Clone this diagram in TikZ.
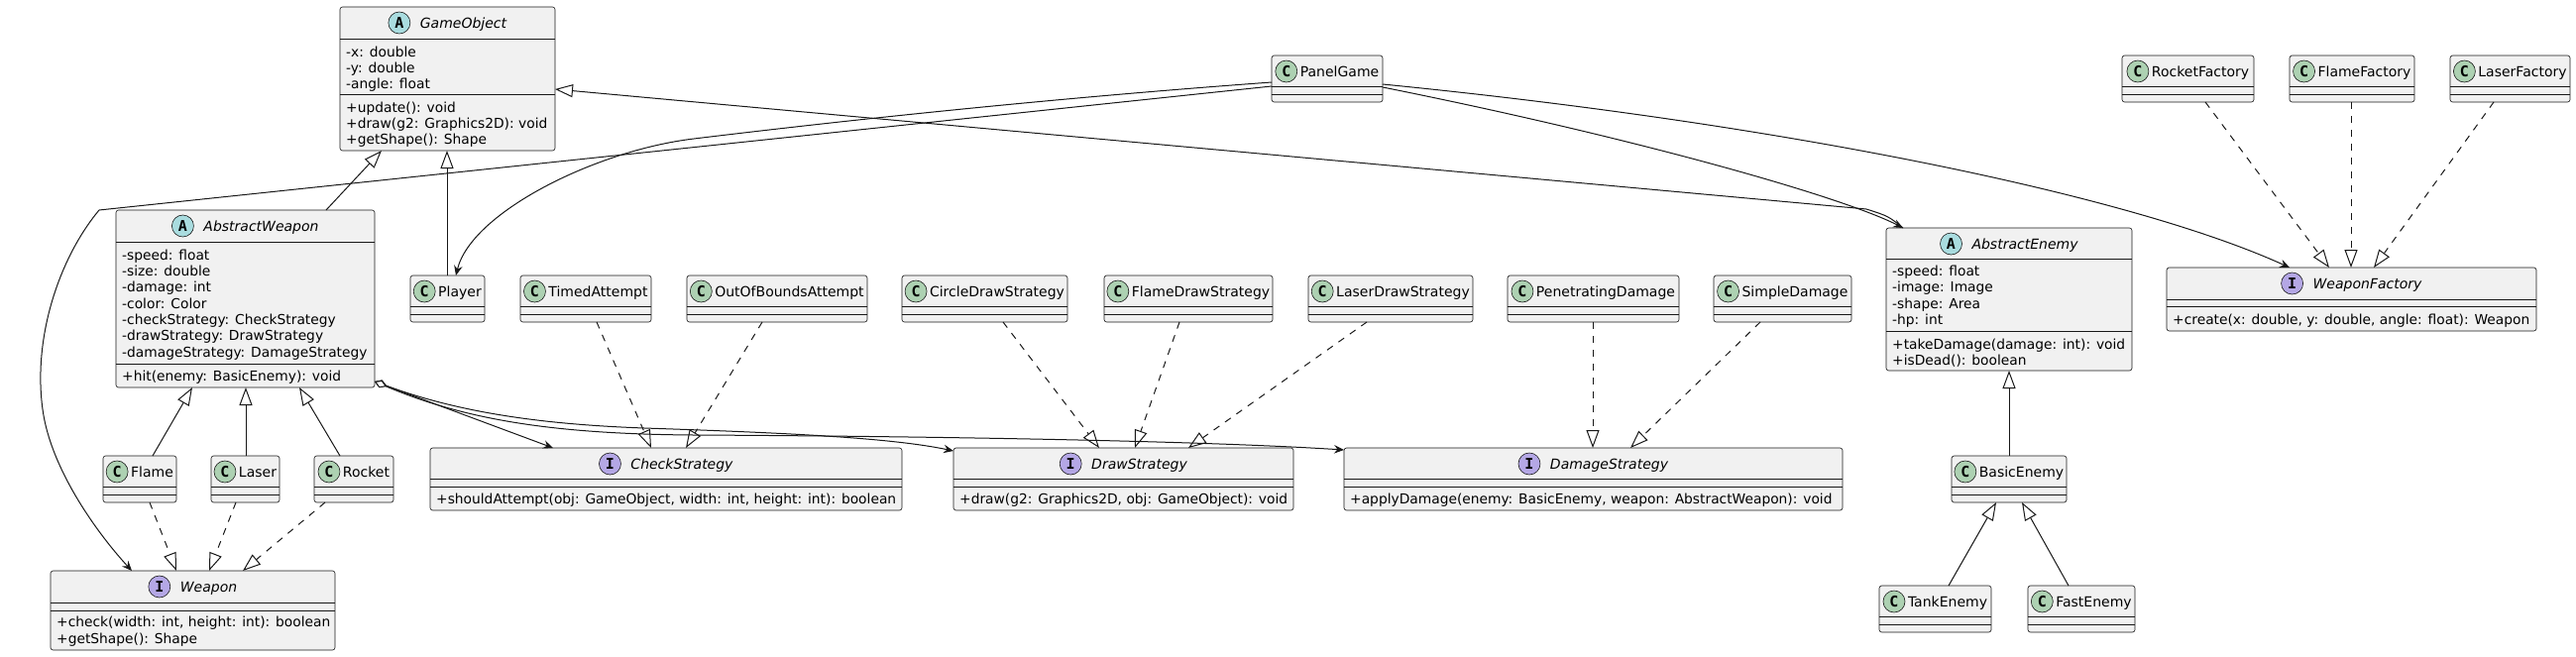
\documentclass[tikz,border=0pt]{standalone}
\usepackage{fontspec}
\setmainfont{DejaVu Sans}
\newfontfamily\iconfont{DejaVu Sans Mono}
\usetikzlibrary{arrows.meta,calc}
\definecolor{boxfill}{HTML}{F1F1F1}
\definecolor{boxline}{HTML}{181818}
\definecolor{absc}{HTML}{A9DCDF}
\definecolor{clsc}{HTML}{ADD1B2}
\definecolor{intc}{HTML}{B4A7E5}
\tikzset{
  clsbox/.style={draw=boxline, fill=boxfill, line width=0.6pt, rounded corners=2.5pt, inner sep=0pt, outer sep=0pt, anchor=north west},
  divline/.style={draw=boxline, line width=0.6pt},
  nametext/.style={inner sep=0pt, outer sep=0pt, font=\fontsize{14}{16}\selectfont},
  nameital/.style={nametext, font=\fontsize{14}{16}\selectfont\itshape},
  iconc/.style={circle, draw=boxline, line width=0.6pt, minimum size=22pt, inner sep=0pt, font=\iconfont\bfseries\fontsize{15}{15}\selectfont},
  memtext/.style={inner sep=0pt, anchor=base west, font=\fontsize{13.8}{16}\selectfont},
  conn/.style={draw=boxline, line width=1pt},
  inherit/.style={conn, -{Triangle[open, fill=white, length=18pt, width=13pt]}},
  realize/.style={inherit, dash pattern=on 7pt off 7pt},
  assoc/.style={conn, -{Stealth[length=10pt, width=8.5pt, inset=3.5pt]}},
  aggr/.style={conn, {Diamond[open, fill=white, length=13pt, width=8pt]}-{Stealth[length=10pt, width=8.5pt, inset=3.5pt]}},
}
\newcommand\umlbox[7]{%
  \node[clsbox, minimum width={#4-#2}, minimum height={#5-#3}] (#1) at (#2,#3) {};
  \draw[divline] (#2,#6) -- (#4,#6);
  \draw[divline] (#2,#7) -- (#4,#7);
}
\newcommand\umlname[7]{%
  \node[#4, anchor=base] (#1-n) at ($(#1.north)+(#6,21)$) {#5};
  \node[iconc, fill=#3] (#1-i) at ($(#1-n.base west)+(-#7-11,-5)$) {#2};
}
\newcommand\umlsmall[5]{%
  \node[clsbox, minimum width={#4-#2}, minimum height=47] (#1) at (#2,#3) {};
  \draw[divline] (#2,#3+31) -- (#4,#3+31);
  \draw[divline] (#2,#3+39) -- (#4,#3+39);
  \umlname{#1}{C}{clsc}{nametext}{#5}{12.5}{3}
}
\newcommand\umlmem[4]{\node[memtext] (#1) at (#2,#3+5) {#4};}
\begin{document}
\begin{tikzpicture}[x=1pt,y=-1pt]
\useasboundingbox (0,0) rectangle (2599,662);

% ---- GameObject
\umlbox{go}{343}{7}{560}{152}{39}{95}
\umlname{go}{A}{absc}{nameital}{GameObject}{16}{10}
\umlmem{go1}{349}{52}{-x: double}
\umlmem{go2}{349}{68}{-y: double}
\umlmem{go3}{349}{84}{-angle: float}
\umlmem{go4}{349}{108}{+update(): void}
\umlmem{go5}{349}{124}{+draw(g2: Graphics2D): void}
\umlmem{go6}{349}{140}{+getShape(): Shape}

% ---- AbstractWeapon
\umlbox{aw}{117}{212}{378}{391}{244}{367}
\umlname{aw}{A}{absc}{nameital}{AbstractWeapon}{16}{10}
\umlmem{aw1}{123}{257}{-speed: float}
\umlmem{aw2}{123}{273}{-size: double}
\umlmem{aw3}{123}{289}{-damage: int}
\umlmem{aw4}{123}{306}{-color: Color}
\umlmem{aw5}{123}{322}{-checkStrategy: CheckStrategy}
\umlmem{aw6}{123}{338}{-drawStrategy: DrawStrategy}
\umlmem{aw7}{123}{355}{-damageStrategy: DamageStrategy}
\umlmem{aw8}{123}{379}{+hit(enemy: BasicEnemy): void}

% ---- AbstractEnemy
\umlbox{ae}{1903}{230}{2151}{374}{261}{334}
\umlname{ae}{A}{absc}{nameital}{AbstractEnemy}{16}{10}
\umlmem{ae1}{1909}{273}{-speed: float}
\umlmem{ae2}{1909}{289}{-image: Image}
\umlmem{ae3}{1909}{306}{-shape: Area}
\umlmem{ae4}{1909}{322}{-hp: int}
\umlmem{ae5}{1909}{347}{+takeDamage(damage: int): void}
\umlmem{ae6}{1909}{363}{+isDead(): boolean}

% ---- interfaces
\umlbox{wf}{2186}{270}{2559}{334}{302}{309}
\umlname{wf}{I}{intc}{nameital}{WeaponFactory}{16}{10}
\umlmem{wf1}{2192}{322}{+create(x: double, y: double, angle: float): Weapon}

\umlbox{wp}{51}{576}{338}{656}{608}{616}
\umlname{wp}{I}{intc}{nameital}{Weapon}{16}{10}
\umlmem{wp1}{57}{627}{+check(width: int, height: int): boolean}
\umlmem{wp2}{57}{644}{+getShape(): Shape}

\umlbox{cs}{434}{452}{910}{515}{483}{491}
\umlname{cs}{I}{intc}{nameital}{CheckStrategy}{16}{10}
\umlmem{cs1}{440}{503}{+shouldAttempt(obj: GameObject, width: int, height: int): boolean}

\umlbox{ds}{962}{452}{1305}{515}{483}{491}
\umlname{ds}{I}{intc}{nameital}{DrawStrategy}{16}{10}
\umlmem{ds1}{968}{503}{+draw(g2: Graphics2D, obj: GameObject): void}

\umlbox{dms}{1356}{452}{1859}{515}{483}{491}
\umlname{dms}{I}{intc}{nameital}{DamageStrategy}{16}{10}
\umlmem{dms1}{1362}{503}{+applyDamage(enemy: BasicEnemy, weapon: AbstractWeapon): void}

% ---- small classes
\umlsmall{player}{414}{278}{489}{Player}
\umlsmall{timed}{525}{278}{657}{TimedAttempt}
\umlsmall{oob}{693}{278}{875}{OutOfBoundsAttempt}
\umlsmall{circ}{910}{278}{1077}{CircleDrawStrategy}
\umlsmall{flds}{1114}{278}{1284}{FlameDrawStrategy}
\umlsmall{lads}{1320}{278}{1486}{LaserDrawStrategy}
\umlsmall{pen}{1521}{278}{1694}{PenetratingDamage}
\umlsmall{simp}{1729}{278}{1868}{SimpleDamage}
\umlsmall{pg}{1283}{56}{1395}{PanelGame}
\umlsmall{rf}{2141}{56}{2274}{RocketFactory}
\umlsmall{ff}{2310}{56}{2436}{FlameFactory}
\umlsmall{lf}{2472}{56}{2593}{LaserFactory}
\umlsmall{flame}{104}{460}{178}{Flame}
\umlsmall{laser}{213}{460}{282}{Laser}
\umlsmall{rocket}{317}{460}{397}{Rocket}
\umlsmall{be}{1969}{460}{2085}{BasicEnemy}
\umlsmall{te}{1896}{591}{2009}{TankEnemy}
\umlsmall{fe}{2046}{591}{2154}{FastEnemy}

% ---- connectors
\draw[inherit] ($(aw.north west)+(212,0)$) -- ($(go.south west)+(42,0)$);
\draw[inherit] ($(player.north west)+(37,0)$) -- ($(go.south west)+(108,0)$);
\draw[inherit] ($(ae.north west)+(17,0)$) .. controls ($(ae.north west)+(2,-12)$) .. ($(ae.north west)+(-20,-19)$) -- ($(go.east)+(0,10.5)$);

\draw[assoc] ($(pg.north west)+(0,27)$) .. controls (1090,97) and (890,117) .. (700,140) .. controls (600,152) and (475,215) .. ($(player.north west)+(46,0)$);
\draw[assoc] ($(pg.north west)+(0,31)$) -- (100,212) .. controls (60,260) and (33,340) .. (43,413) .. controls (51,473) and (98,538) .. ($(wp.north west)+(82,0)$);
\draw[assoc] ($(pg.north east)+(0,32)$) .. controls (1650,139) and (1860,199) .. ($(ae.north west)+(17,0)$);
\draw[assoc] ($(pg.north east)+(0,29)$) .. controls (1800,125) and (2150,197) .. ($(wf.north west)+(124,0)$);

\draw[realize] ($(rf.south west)+(84,0)$) -- ($(wf.north west)+(164,0)$);
\draw[realize] ($(ff.south west)+(62,0)$) -- ($(wf.north west)+(186,0)$);
\draw[realize] ($(lf.south west)+(44,0)$) -- ($(wf.north west)+(209,0)$);

\draw[inherit] ($(be.north west)+(58,0)$) -- ($(ae.south west)+(124,0)$);
\draw[inherit] ($(te.north west)+(70,0)$) -- ($(be.south west)+(45,0)$);
\draw[inherit] ($(fe.north west)+(41,0)$) -- ($(be.south west)+(71,0)$);

\draw[inherit] ($(flame.north west)+(50,0)$) -- ($(aw.south west)+(77,0)$);
\draw[inherit] ($(laser.north west)+(35,0)$) -- ($(aw.south west)+(131,0)$);
\draw[inherit] ($(rocket.north west)+(26,0)$) -- ($(aw.south west)+(185,0)$);

\draw[realize] ($(flame.south west)+(47,0)$) -- ($(wp.north west)+(127,0)$);
\draw[realize] ($(laser.south west)+(25,0)$) -- ($(wp.north west)+(160,0)$);
\draw[realize] ($(rocket.south west)+(11,0)$) -- ($(wp.north west)+(194,0)$);

\draw[realize] ($(timed.south west)+(77,0)$) -- ($(cs.north west)+(223,0)$);
\draw[realize] ($(oob.south west)+(76,0)$) -- ($(cs.north west)+(258,0)$);
\draw[realize] ($(circ.south west)+(102,0)$) -- ($(ds.north west)+(147,0)$);
\draw[realize] ($(flds.south west)+(76,0)$) -- ($(ds.north west)+(183,0)$);
\draw[realize] ($(lads.south west)+(59,0)$) -- ($(ds.north west)+(237,0)$);
\draw[realize] ($(pen.south west)+(86,0)$) -- ($(dms.north west)+(251,0)$);
\draw[realize] ($(simp.south west)+(47,0)$) -- ($(dms.north west)+(289,0)$);

\draw[aggr] ($(aw.south east)+(0,-6)$) -- ($(cs.north west)+(124,0)$);
\draw[aggr] ($(aw.south east)+(0,-6)$) .. controls (460,415) and (540,428) .. (650,432) .. controls (800,437) and (900,442) .. ($(ds.north west)+(0,3)$);
\draw[aggr] ($(aw.south east)+(0,-6)$) .. controls (470,424) and (560,438) .. (700,439) .. controls (900,440) and (1200,444) .. ($(dms.north west)+(0,2)$);
\end{tikzpicture}
\end{document}
